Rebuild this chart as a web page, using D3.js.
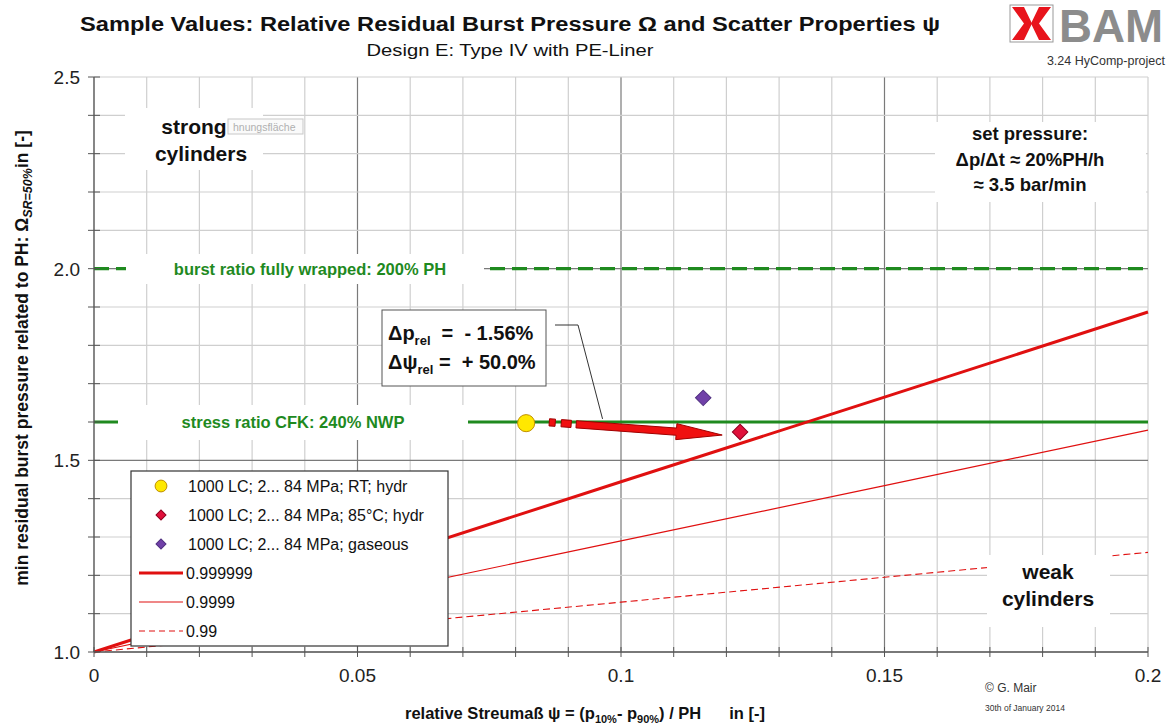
<!DOCTYPE html>
<html>
<head>
<meta charset="utf-8">
<script src="https://cdn.jsdelivr.net/npm/d3@7"></script>
<style>
  body { margin: 0; background: #fff; }
  svg { display: block; font-family: "Liberation Sans", Arial, sans-serif; }
</style>
</head>
<body>
<svg id="chart" width="1172" height="724"></svg>
<script>
// reference lines: x positions and omega values
let psiGrid = [0, 0.05, 0.1, 0.15, 0.2]
let omega999999 = [1.0, 1.222, 1.444, 1.665, 1.887]
let omega9999 = [1.0, 1.145, 1.290, 1.434, 1.579]
let omega99 = [1.0, 1.065, 1.130, 1.195, 1.260]

// sample points
let samplePsi = [0.082, 0.1226, 0.1156]
let sampleOmega = [1.597, 1.574, 1.663]
let sampleLabels = ["1000 LC; 2... 84 MPa; RT; hydr", "1000 LC; 2... 84 MPa; 85°C; hydr", "1000 LC; 2... 84 MPa; gaseous"]
let lineLabels = ["0.999999", "0.9999", "0.99"]

let burstRatio = 2.0
let stressRatio = 1.6

let xTicks = [0, 0.05, 0.1, 0.15, 0.2]
let xTickLabels = ["0", "0.05", "0.1", "0.15", "0.2"]
let yTicks = [1.0, 1.5, 2.0, 2.5]
let yTickLabels = ["1.0", "1.5", "2.0", "2.5"]

let plotLeft = 94, plotRight = 1148, plotTop = 77, plotBottom = 652

let svg = d3.select("#chart")

let x = d3.scaleLinear().domain([0, 0.2]).range([plotLeft, plotRight])
let y = d3.scaleLinear().domain([1.0, 2.5]).range([plotBottom, plotTop])

let red = "#e01010"
let green = "#1f8a1f"
let markerFills = ["#ffe800", "#e0103a", "#7040a8"]
let markerStrokes = ["#c09000", "#900020", "#503080"]

function marker_path(i, size) {
    // circle for the RT sample, square turned 45 degrees for the others
    if (i == 0) return d3.symbol().type(d3.symbolCircle).size(size)()
    return d3.symbol().type(d3.symbolSquare).size(size)()
}
function marker_rotate(i) {
    return i == 0 ? "" : " rotate(45)"
}

function draw_grid() {
    let g = svg.append("g")
    let minorX = d3.range(0, 0.2001, 0.01)
    let minorY = d3.range(1.0, 2.5001, 0.1)
    g.selectAll("line.vx")
        .data(minorX)
        .enter().append("line")
        .attr("x1", d => x(d)).attr("x2", d => x(d))
        .attr("y1", plotTop).attr("y2", plotBottom)
        .attr("stroke", (d, i) => i % 5 == 0 && i > 0 && i < 20 ? "#7a7a7a" : "#cfcfcf")
        .attr("stroke-width", 1.2)
    g.selectAll("line.hy")
        .data(minorY)
        .enter().append("line")
        .attr("x1", plotLeft).attr("x2", plotRight)
        .attr("y1", d => y(d)).attr("y2", d => y(d))
        .attr("stroke", (d, i) => i % 5 == 0 && i > 0 && i < 15 ? "#7a7a7a" : "#cfcfcf")
        .attr("stroke-width", 1.2)
}

function draw_axes() {
    let g = svg.append("g")
    g.append("line").attr("x1", plotLeft).attr("x2", plotLeft).attr("y1", plotTop).attr("y2", plotBottom)
        .attr("stroke", "#555").attr("stroke-width", 1.3)
    g.append("line").attr("x1", plotLeft).attr("x2", plotRight).attr("y1", plotBottom).attr("y2", plotBottom)
        .attr("stroke", "#555").attr("stroke-width", 1.3)
    // crossing ticks
    g.selectAll("line.tx")
        .data(d3.range(0, 0.2001, 0.01))
        .enter().append("line")
        .attr("x1", d => x(d)).attr("x2", d => x(d))
        .attr("y1", plotBottom - 5).attr("y2", plotBottom + 5)
        .attr("stroke", "#555")
    g.selectAll("line.ty")
        .data(d3.range(1.0, 2.5001, 0.1))
        .enter().append("line")
        .attr("x1", plotLeft - 6).attr("x2", plotLeft + 6)
        .attr("y1", d => y(d)).attr("y2", d => y(d))
        .attr("stroke", "#555")

    g.selectAll("text.xl")
        .data(xTicks)
        .enter().append("text")
        .attr("x", d => x(d))
        .attr("y", plotBottom + 30)
        .attr("text-anchor", "middle")
        .attr("font-size", 19)
        .attr("fill", "#222")
        .text((d, i) => xTickLabels[i])
    g.selectAll("text.yl")
        .data(yTicks)
        .enter().append("text")
        .attr("x", plotLeft - 14)
        .attr("y", d => y(d) + 7)
        .attr("text-anchor", "end")
        .attr("font-size", 19)
        .attr("fill", "#222")
        .text((d, i) => yTickLabels[i])

    // y axis title
    let yt = svg.append("text")
        .attr("transform", "translate(28,358) rotate(-90)")
        .attr("text-anchor", "middle")
        .attr("font-size", 17.5)
        .attr("font-weight", "bold")
        .attr("fill", "#111")
    yt.append("tspan").text("min residual burst pressure related to PH: Ω")
    yt.append("tspan").attr("font-size", 12.5).attr("font-style", "italic").attr("dy", 4).text("SR=50%")
    yt.append("tspan").attr("dy", -4).text("in [-]")

    // x axis title
    let xt = svg.append("text")
        .attr("x", 405).attr("y", 719)
        .attr("font-size", 16.5)
        .attr("font-weight", "bold")
        .attr("fill", "#111")
        .style("white-space", "pre")
    xt.append("tspan").text("relative Streumaß ψ = (p")
    xt.append("tspan").attr("font-size", 11).attr("dy", 4).text("10%")
    xt.append("tspan").attr("dy", -4).text("- p")
    xt.append("tspan").attr("font-size", 11).attr("dy", 4).text("90%")
    xt.append("tspan").attr("dy", -4).text(") / PH")
    xt.append("tspan").attr("dx", 28).text("in [-]")
}

function white_box(x0, y0, x1, y1) {
    svg.append("rect")
        .attr("x", x0).attr("y", y0)
        .attr("width", x1 - x0).attr("height", y1 - y0)
        .attr("fill", "#fff")
}

function draw_ratio_lines() {
    // burst ratio, dashed
    svg.append("line")
        .attr("x1", x(0)).attr("x2", x(0.2))
        .attr("y1", y(burstRatio)).attr("y2", y(burstRatio))
        .attr("stroke", green).attr("stroke-width", 3.2)
        .attr("stroke-dasharray", "15,7")
    white_box(126, 254, 484, 284)
    svg.append("text")
        .attr("x", 310).attr("y", y(burstRatio) + 6)
        .attr("text-anchor", "middle")
        .attr("font-size", 16.5).attr("font-weight", "bold")
        .attr("fill", green)
        .text("burst ratio fully wrapped: 200% PH")

    // stress ratio, solid
    svg.append("line")
        .attr("x1", x(0)).attr("x2", x(0.2))
        .attr("y1", y(stressRatio)).attr("y2", y(stressRatio))
        .attr("stroke", green).attr("stroke-width", 3)
    white_box(118, 405, 468, 440)
    svg.append("text")
        .attr("x", 293).attr("y", y(stressRatio) + 6)
        .attr("text-anchor", "middle")
        .attr("font-size", 16.5).attr("font-weight", "bold")
        .attr("fill", green)
        .text("stress ratio CFK: 240% NWP")
}

function draw_probability_lines() {
    let line = d3.line().x(d => x(d[0])).y(d => y(d[1]))
    let series = [omega999999, omega9999, omega99]
    let widths = [3, 1.2, 1.1]
    let dashes = [null, null, "7,4"]
    series.forEach((s, i) => {
        svg.append("path")
            .datum(psiGrid.map((p, j) => [p, s[j]]))
            .attr("d", line)
            .attr("fill", "none")
            .attr("stroke", red)
            .attr("stroke-width", widths[i])
            .attr("stroke-dasharray", dashes[i])
    })
}

function draw_labels() {
    // strong cylinders
    white_box(125, 108, 263, 170)
    // stray tooltip left in the screenshot
    svg.append("rect")
        .attr("x", 228).attr("y", 119).attr("width", 75).attr("height", 15)
        .attr("fill", "#fafafa").attr("stroke", "#c8c8c8")
    svg.append("text")
        .attr("x", 233).attr("y", 130.5)
        .attr("font-size", 10.5).attr("fill", "#b0b0b0")
        .text("hnungsfläche")
    let st = svg.append("text")
        .attr("text-anchor", "middle")
        .attr("font-size", 21).attr("font-weight", "bold")
        .attr("fill", "#111")
    st.append("tspan").attr("x", 194).attr("y", 134).text("strong")
    st.append("tspan").attr("x", 201).attr("y", 161).text("cylinders")

    // set pressure
    white_box(935, 122, 1146, 202)
    let sp = svg.append("text")
        .attr("text-anchor", "middle")
        .attr("font-size", 18.5).attr("font-weight", "bold")
        .attr("fill", "#111")
    sp.append("tspan").attr("x", 1030).attr("y", 140).text("set pressure:")
    sp.append("tspan").attr("x", 1030).attr("y", 166).text("Δp/Δt ≈ 20%PH/h")
    sp.append("tspan").attr("x", 1030).attr("y", 191).text("≈ 3.5 bar/min")

    // weak cylinders
    white_box(987, 555, 1110, 627)
    let wk = svg.append("text")
        .attr("text-anchor", "middle")
        .attr("font-size", 21).attr("font-weight", "bold")
        .attr("fill", "#111")
    wk.append("tspan").attr("x", 1048).attr("y", 579).text("weak")
    wk.append("tspan").attr("x", 1048).attr("y", 606).text("cylinders")
}

function draw_arrow() {
    // arrow from the RT sample towards the 85°C sample, in data units
    let p0 = [x(0.0915), y(1.594)]
    let p1 = [x(0.1192), y(1.566)]
    let dx = p1[0] - p0[0], dy = p1[1] - p0[1]
    let len = Math.sqrt(dx * dx + dy * dy)
    let ux = dx / len, uy = dy / len
    let nx = -uy, ny = ux
    let sw = 3.6, hw = 8, hl = 46
    let bx = p1[0] - ux * hl, by = p1[1] - uy * hl
    let pts = [
        [p0[0] + nx * sw, p0[1] + ny * sw],
        [bx + nx * sw, by + ny * sw],
        [bx + nx * hw, by + ny * hw],
        p1,
        [bx - nx * hw, by - ny * hw],
        [bx - nx * sw, by - ny * sw],
        [p0[0] - nx * sw, p0[1] - ny * sw]
    ]
    svg.append("polygon")
        .attr("points", pts.map(p => p.join(",")).join(" "))
        .attr("fill", "#f01010").attr("stroke", "#a00000").attr("stroke-width", 1)
    // little dashes before the arrow
    let dashes = [[-27, -21], [-15, -5]]
    dashes.forEach(d => {
        let a = [p0[0] + ux * d[0], p0[1] + uy * d[0]]
        let b = [p0[0] + ux * d[1], p0[1] + uy * d[1]]
        let q = [
            [a[0] + nx * sw, a[1] + ny * sw], [b[0] + nx * sw, b[1] + ny * sw],
            [b[0] - nx * sw, b[1] - ny * sw], [a[0] - nx * sw, a[1] - ny * sw]
        ]
        svg.append("polygon")
            .attr("points", q.map(p => p.join(",")).join(" "))
            .attr("fill", "#f01010").attr("stroke", "#a00000").attr("stroke-width", 1)
    })
}

function draw_samples() {
    let g = svg.append("g")
    samplePsi.forEach((p, i) => {
        g.append("path")
            .attr("d", marker_path(i, i == 0 ? 230 : 120))
            .attr("transform", "translate(" + x(p) + "," + y(sampleOmega[i]) + ")" + marker_rotate(i))
            .attr("fill", markerFills[i]).attr("stroke", markerStrokes[i]).attr("stroke-width", 1)
    })
}

function draw_annotation() {
    // connector from box to arrow
    svg.append("polyline")
        .attr("points", [[555, 325], [578, 325], [x(0.0965), y(1.608)]].map(p => p.join(",")).join(" "))
        .attr("fill", "none").attr("stroke", "#333").attr("stroke-width", 1)
    svg.append("rect")
        .attr("x", 382).attr("y", 310).attr("width", 164).attr("height", 76)
        .attr("fill", "#fff").attr("stroke", "#555").attr("stroke-width", 1)
    let t1 = svg.append("text").attr("x", 388).attr("y", 340)
        .attr("font-size", 20).attr("font-weight", "bold").attr("fill", "#111")
        .style("white-space", "pre")
    t1.append("tspan").text("Δp")
    t1.append("tspan").attr("font-size", 13).attr("dy", 5).text("rel")
    t1.append("tspan").attr("dy", -5).text("  =  - 1.56%")
    let t2 = svg.append("text").attr("x", 388).attr("y", 369)
        .attr("font-size", 20).attr("font-weight", "bold").attr("fill", "#111")
        .style("white-space", "pre")
    t2.append("tspan").text("Δψ")
    t2.append("tspan").attr("font-size", 13).attr("dy", 5).text("rel")
    t2.append("tspan").attr("dy", -5).text(" =  + 50.0%")
}

function draw_legend() {
    let g = svg.append("g")
    g.append("rect")
        .attr("x", 131).attr("y", 471).attr("width", 317).attr("height", 175)
        .attr("fill", "#fff").attr("stroke", "#333").attr("stroke-width", 1.2)
    let rowY = i => 486 + i * 29
    sampleLabels.forEach((lab, i) => {
        g.append("path")
            .attr("d", marker_path(i, i == 0 ? 110 : 50))
            .attr("transform", "translate(161," + rowY(i) + ")" + marker_rotate(i))
            .attr("fill", markerFills[i]).attr("stroke", markerStrokes[i])
        g.append("text")
            .attr("x", 188).attr("y", rowY(i) + 6)
            .attr("font-size", 16).attr("fill", "#111")
            .text(lab)
    })
    let widths = [3, 1.2, 1.1]
    let dashes = [null, null, "6,4"]
    lineLabels.forEach((lab, j) => {
        let i = j + 3
        g.append("line")
            .attr("x1", 139).attr("x2", 183)
            .attr("y1", rowY(i)).attr("y2", rowY(i))
            .attr("stroke", red).attr("stroke-width", widths[j])
            .attr("stroke-dasharray", dashes[j])
        g.append("text")
            .attr("x", 186).attr("y", rowY(i) + 6)
            .attr("font-size", 16).attr("fill", "#111")
            .text(lab)
    })
}

function draw_header() {
    svg.append("text")
        .attr("x", 510).attr("y", 31)
        .attr("text-anchor", "middle")
        .attr("font-size", 20).attr("font-weight", "bold")
        .attr("fill", "#111")
        .attr("textLength", 860).attr("lengthAdjust", "spacingAndGlyphs")
        .text("Sample Values: Relative Residual Burst Pressure Ω and Scatter Properties ψ")
    svg.append("text")
        .attr("x", 510).attr("y", 56)
        .attr("text-anchor", "middle")
        .attr("font-size", 16.5).attr("fill", "#111")
        .attr("textLength", 287).attr("lengthAdjust", "spacingAndGlyphs")
        .text("Design E: Type IV with PE-Liner")

    // BAM logo
    let logo = svg.append("g")
    logo.append("rect").attr("x", 1010).attr("y", 5).attr("width", 43).attr("height", 37)
        .attr("fill", "#fff").attr("stroke", "#999").attr("stroke-width", 1)
    logo.append("polygon")
        .attr("points", "1012,7 1024,7 1032,23.5 1024,40 1012,40 1024,23.5")
        .attr("fill", "#e8141c")
    logo.append("polygon")
        .attr("points", "1051,7 1039,7 1031,23.5 1039,40 1051,40 1039,23.5")
        .attr("fill", "#e8141c")
    logo.append("text")
        .attr("x", 1059).attr("y", 42)
        .attr("font-size", 46).attr("font-weight", "bold")
        .attr("fill", "#8c8c8c")
        .attr("textLength", 104).attr("lengthAdjust", "spacingAndGlyphs")
        .text("BAM")
    svg.append("text")
        .attr("x", 1165).attr("y", 65)
        .attr("text-anchor", "end")
        .attr("font-size", 12.5).attr("fill", "#333")
        .text("3.24 HyComp-project")

    // footer credits
    svg.append("text").attr("x", 985).attr("y", 692)
        .attr("font-size", 12).attr("fill", "#333").text("© G. Mair")
    svg.append("text").attr("x", 985).attr("y", 711)
        .attr("font-size", 8.5).attr("fill", "#333").text("30th of January 2014")
}

draw_grid()
draw_ratio_lines()
draw_probability_lines()
draw_axes()
draw_labels()
draw_legend()
draw_annotation()
draw_arrow()
draw_samples()
draw_header()
</script>
</body>
</html>
